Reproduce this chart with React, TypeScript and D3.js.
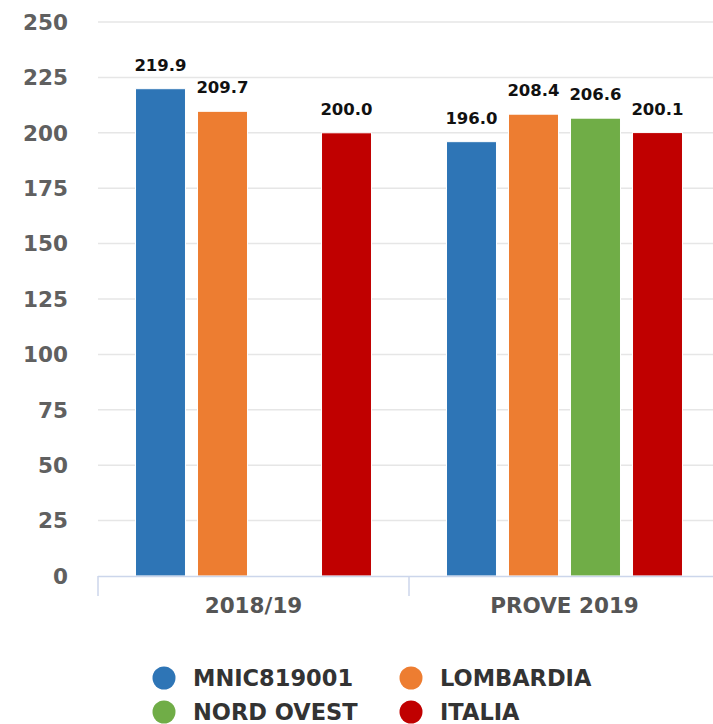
import React from 'react';
import * as d3 from 'd3';

const categories = ['2018/19', 'PROVE 2019'];
const seriesNames = ['MNIC819001', 'LOMBARDIA', 'NORD OVEST', 'ITALIA'];
const seriesColors = ['#2e75b6', '#ed7d31', '#70ad47', '#c00000'];
// values per series, one entry per category (null = no bar)
const mnicValues = [219.9, 196.0];
const lombardiaValues = [209.7, 208.4];
const nordOvestValues: (number | null)[] = [null, 206.6];
const italiaValues = [200.0, 200.1];
const yTicks = [0, 25, 50, 75, 100, 125, 150, 175, 200, 225, 250];

const seriesValues = [mnicValues, lombardiaValues, nordOvestValues, italiaValues];

const W = 713;
const H = 724;
const font = '"DejaVu Sans", sans-serif';

const App: React.FC = () => {
  const left = 98;
  const right = 720;
  const top = 22;
  const bottom = 576;

  const y = d3.scaleLinear().domain([0, 250]).range([bottom, top]);
  const x0 = d3.scaleBand<string>().domain(categories).range([left, right]).padding(0);
  const x1 = d3
    .scaleBand<string>()
    .domain(seriesNames)
    .range([0, x0.bandwidth()])
    .paddingInner(0.194)
    .paddingOuter(0.605);

  return (
    <svg width={W} height={H} style={{ position: 'absolute', left: 0, top: 0, background: '#fff' }}>
      {/* grid */}
      {yTicks.filter(t => t > 0).map(t => (
        <line key={t} x1={left} x2={W} y1={y(t)} y2={y(t)} stroke="#e6e6e6" strokeWidth={1.5} />
      ))}
      {/* y tick labels */}
      {yTicks.map(t => (
        <text key={t} x={68} y={y(t)} dy="0.36em" textAnchor="end" fontFamily={font} fontWeight="bold"
          fontSize={21.5} fill="#606060">
          {t}
        </text>
      ))}
      {/* bars */}
      {categories.map((c, ci) => (
        <g key={c} transform={`translate(${x0(c)},0)`}>
          {seriesNames.map((s, si) => {
            const v = seriesValues[si][ci];
            if (v == null) return null;
            const bx = x1(s)!;
            return (
              <g key={s}>
                <rect x={bx} y={y(v)} width={x1.bandwidth()} height={y(0) - y(v)} fill={seriesColors[si]}
                  stroke="#fff" strokeWidth={1} />
                <text x={bx + x1.bandwidth() / 2} y={y(v) - 18} textAnchor="middle" fontFamily={font}
                  fontWeight="bold" fontSize={16.5} fill="#111">
                  {v.toFixed(1)}
                </text>
              </g>
            );
          })}
        </g>
      ))}
      {/* x axis */}
      <line x1={left} x2={W} y1={bottom + 0.5} y2={bottom + 0.5} stroke="#ccd6eb" strokeWidth={1.5} />
      {[left, x0(categories[1])!].map((tx, i) => (
        <line key={i} x1={tx} x2={tx} y1={bottom} y2={bottom + 20} stroke="#ccd6eb" strokeWidth={1.5} />
      ))}
      {categories.map(c => (
        <text key={c} x={x0(c)! + x0.bandwidth() / 2} y={613} textAnchor="middle" fontFamily={font}
          fontWeight="bold" fontSize={21.5} fill="#555">
          {c}
        </text>
      ))}
      {/* legend */}
      {seriesNames.map((s, i) => {
        const lx = i % 2 === 0 ? 164 : 411;
        const ly = i < 2 ? 678 : 712;
        return (
          <g key={s}>
            <circle cx={lx} cy={ly} r={11.5} fill={seriesColors[i]} />
            <text x={lx + 29} y={ly} dy="0.36em" fontFamily={font} fontWeight="bold" fontSize={22.5} fill="#333">
              {s}
            </text>
          </g>
        );
      })}
    </svg>
  );
};

export default App;
